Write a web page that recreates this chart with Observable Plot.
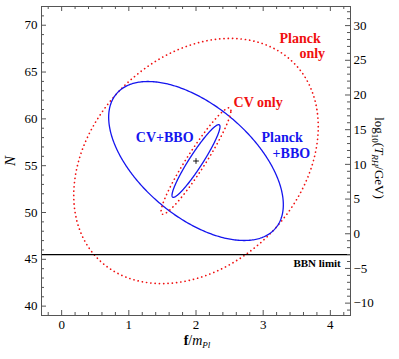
<!DOCTYPE html>
<html><head><meta charset="utf-8">
<script src="https://cdn.jsdelivr.net/npm/d3@7"></script>
<script src="https://cdn.jsdelivr.net/npm/@observablehq/plot@0.6"></script>
<style>body{margin:0;background:#fff} svg text{font-family:"Liberation Serif","DejaVu Serif",serif !important;}</style>
</head><body><div id="chart"></div>
<script>
// ---- data ----
const xDomain = [-0.3, 4.3];
const nDomain = [39, 72];
const xMajor = [0, 1, 2, 3, 4];
const nMajor = [40, 45, 50, 55, 60, 65, 70];
const tMajor = [-10, -5, 0, 5, 10, 15, 20, 25, 30];
// right axis: log10(T_RH/GeV) = (N - tN0) / tK
const tN0 = 47.73, tK = 0.741;
const fiducialF = [2.0];
const fiducialN = [55.5];
const ellipseNames = ["Planck only", "Planck+BBO", "CV only", "CV+BBO"];
const ellipseSigF = [1.82, 1.30, 0.52, 0.357];
const ellipseSigN = [13.09, 8.49, 5.69, 3.88];
const ellipseRho  = [0.28, -0.55, 0.949, 0.944];
const ellipseDotted = [true, false, true, false];
const bbnN = [45.5];
const labelText  = ["Planck", "only", "CV only", "CV+BBO", "Planck", "+BBO", "BBN limit"];
const labelF     = [3.244, 3.54, 2.56, 1.104, 2.975, 3.14, 3.45];
const labelN     = [68.05, 66.45, 61.32, 57.48, 57.58, 55.87, 44.23];
const labelColor = ["#f01010", "#f01010", "#f01010", "#1515ee", "#1515ee", "#1515ee", "#000"];
const labelSize  = [14, 14, 14, 14, 14, 14, 11];

// ---- build ----
const W = 399, H = 359, mL = 41, mR = 49, mT = 6, mB = 44;
const fw = W - mL - mR, fh = H - mT - mB;
const red = "#f01010", blue = "#1515ee", axisCol = "#555";
const serif = "Liberation Serif, DejaVu Serif, serif";

function ellipse(i) {
  const rho = ellipseRho[i], s = Math.sqrt(1 - rho * rho);
  return d3.range(0, 360, 1).map(a => {
    const t = a * Math.PI / 180;
    return {f: fiducialF[0] + ellipseSigF[i] * Math.cos(t),
            N: fiducialN[0] + ellipseSigN[i] * (rho * Math.cos(t) + s * Math.sin(t))};
  });
}
const xMinor = d3.range(-2, 43, 2).map(v => v / 10).filter(v => Math.abs(v - Math.round(v)) > 1e-6);
const nMinor = d3.range(39, 73, 1).filter(v => !nMajor.includes(v));
const tMinor = d3.range(-11, 33, 1).filter(v => !tMajor.includes(v));
const tToN = t => tN0 + tK * t;
const labels = labelText.map((text, i) => ({text, f: labelF[i], N: labelN[i], color: labelColor[i], size: labelSize[i]}));

const marks = [];
ellipseNames.forEach((name, i) => {
  const pts = ellipse(i);
  if (ellipseDotted[i]) {
    marks.push(Plot.line(pts, {x: "f", y: "N", curve: "linear-closed", stroke: red, strokeWidth: 1.7,
      strokeDasharray: "0.1,4.2", strokeLinecap: "round"}));
  } else {
    marks.push(Plot.line(pts, {x: "f", y: "N", curve: "linear-closed", stroke: blue, strokeWidth: 1.3}));
  }
});
marks.push(Plot.ruleY(bbnN, {stroke: "#000", strokeWidth: 1.2}));
marks.push(Plot.dot(fiducialF.map((f, i) => ({f, N: fiducialN[i]})), {x: "f", y: "N", symbol: "plus", r: 2, stroke: "#000", strokeWidth: 0.9}));
marks.push(Plot.text(labels, {x: "f", y: "N", text: "text", fill: "color", fontSize: "size", fontWeight: "bold",
  textAnchor: "start", lineAnchor: "bottom", fontFamily: serif}));
marks.push(Plot.frame({stroke: axisCol, strokeWidth: 1}));
marks.push(Plot.tickX(xMajor, {x: d => d, insetTop: fh - 5, stroke: axisCol}));
marks.push(Plot.tickX(xMinor, {x: d => d, insetTop: fh - 3, stroke: axisCol}));
marks.push(Plot.tickX(xMajor, {x: d => d, insetBottom: fh - 5, stroke: axisCol}));
marks.push(Plot.tickX(xMinor, {x: d => d, insetBottom: fh - 3, stroke: axisCol}));
marks.push(Plot.tickY(nMajor, {y: d => d, insetRight: fw - 5, stroke: axisCol}));
marks.push(Plot.tickY(nMinor, {y: d => d, insetRight: fw - 3, stroke: axisCol}));
marks.push(Plot.tickY(tMajor.map(tToN), {y: d => d, insetLeft: fw - 5, stroke: axisCol}));
marks.push(Plot.tickY(tMinor.map(tToN), {y: d => d, insetLeft: fw - 3, stroke: axisCol}));
marks.push(Plot.axisX(xMajor, {anchor: "bottom", tickSize: 0, tickPadding: 4, label: null, fontSize: 13, fontFamily: serif}));
marks.push(Plot.axisY(nMajor, {anchor: "left", tickSize: 0, tickPadding: 4, label: null, fontSize: 13, fontFamily: serif}));
marks.push(Plot.axisY(tMajor.map(tToN), {anchor: "right", tickSize: 0, tickPadding: 3, label: null, fontSize: 13, fontFamily: serif,
  tickFormat: d => { const v = Math.round((d - tN0) / tK); return v < 0 ? "\u2212" + (-v) : String(v); }}));

const plot = Plot.plot({
  width: W, height: H, marginLeft: mL, marginRight: mR, marginTop: mT, marginBottom: mB,
  x: {domain: xDomain},
  y: {domain: nDomain},
  style: {fontFamily: serif, fontSize: "13px", color: "#000", background: "#fff"},
  marks
});
document.getElementById("chart").appendChild(plot);

const svg = d3.select(plot);
const xl = svg.append("text").attr("x", 197).attr("y", 345).attr("text-anchor", "middle")
  .attr("font-family", serif).attr("font-size", 14).attr("fill", "#000");
xl.append("tspan").attr("font-weight", "bold").text("f");
xl.append("tspan").text("/");
xl.append("tspan").attr("font-style", "italic").text("m");
xl.append("tspan").attr("font-style", "italic").attr("font-size", 9).attr("dy", 3).text("Pl");

svg.append("text").attr("transform", "translate(15,161) rotate(-90)").attr("text-anchor", "middle")
  .attr("font-family", serif).attr("font-style", "italic").attr("font-size", 15).attr("fill", "#000").text("N");

const rl = svg.append("text").attr("transform", "translate(375,158) rotate(90)").attr("text-anchor", "middle")
  .attr("font-family", serif).attr("font-size", 13).attr("fill", "#000");
rl.append("tspan").text("log");
rl.append("tspan").attr("font-size", 9).attr("dy", 3).text("10");
rl.append("tspan").attr("dy", -3).text("(");
rl.append("tspan").attr("font-style", "italic").text("T");
rl.append("tspan").attr("font-style", "italic").attr("font-size", 9).attr("dy", 3).text("RH");
rl.append("tspan").attr("dy", -3).text("/GeV)");
</script>
</body></html>
